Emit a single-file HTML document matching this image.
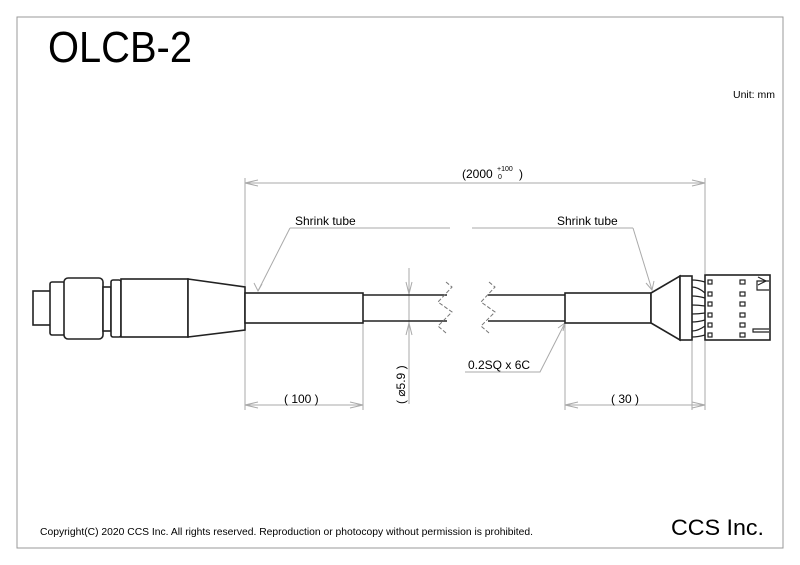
<!DOCTYPE html>
<html><head><meta charset="utf-8"><style>
html,body{margin:0;padding:0;background:#fff;}
svg{display:block;}
text{font-family:"Liberation Sans",sans-serif;fill:#000;}
</style></head><body>
<svg width="800" height="565" viewBox="0 0 800 565" xmlns="http://www.w3.org/2000/svg">
<rect x="17" y="17" width="766" height="531" fill="none" stroke="#999" stroke-width="1"/>
<text x="48" y="62" font-size="44" textLength="144" lengthAdjust="spacingAndGlyphs">OLCB-2</text>
<text x="733" y="98" font-size="10" textLength="42" lengthAdjust="spacingAndGlyphs">Unit: mm</text>
<text x="40" y="535" font-size="10" textLength="493" lengthAdjust="spacingAndGlyphs">Copyright(C) 2020 CCS Inc. All rights reserved. Reproduction or photocopy without permission is prohibited.</text>
<text x="671" y="535" font-size="22" textLength="93" lengthAdjust="spacingAndGlyphs">CCS Inc.</text>

<!-- dimension/extension lines -->
<g stroke="#aaa" stroke-width="1" fill="none">
<line x1="245" y1="178" x2="245" y2="410"/>
<line x1="705" y1="178" x2="705" y2="274"/>
<line x1="705" y1="341" x2="705" y2="410"/>
<line x1="245" y1="183" x2="705" y2="183"/>
<line x1="363" y1="323" x2="363" y2="410"/>
<line x1="565" y1="323" x2="565" y2="410"/>
<line x1="692" y1="341" x2="692" y2="410"/>
<line x1="245" y1="405" x2="363" y2="405"/>
<line x1="565" y1="405" x2="705" y2="405"/>
<line x1="409" y1="268" x2="409" y2="404"/>
<polyline points="258,180 245,183 258,186"/>
<polyline points="692,180 705,183 692,186"/>
<polyline points="258,402 245,405 258,408"/>
<polyline points="350,402 363,405 350,408"/>
<polyline points="578,402 565,405 578,408"/>
<polyline points="692,402 705,405 692,408"/>
<polyline points="406,282 409,294 412,282"/>
<polyline points="406,335 409,323 412,335"/>
<polyline points="290,228 450,228"/>
<polyline points="290,228 258,291"/>
<polyline points="472,228 633,228"/>
<polyline points="633,228 652,290"/>
<polyline points="465,372 540,372 565,323"/>
<polyline points="254,283 258,291 262,284"/>
<polyline points="646,283 652,290 654,281"/>
<polyline points="558,328 565,323 563,331"/>
</g>
<text x="462" y="178" font-size="12">(2000</text>
<text x="497" y="171" font-size="7">+100</text>
<text x="498" y="179" font-size="7">0</text>
<text x="519" y="178" font-size="12">)</text>
<text x="295" y="225" font-size="12">Shrink tube</text>
<text x="557" y="225" font-size="12">Shrink tube</text>
<text x="468" y="369" font-size="12">0.2SQ x 6C</text>
<text x="284" y="403" font-size="12">( 100 )</text>
<text x="611" y="403" font-size="12">( 30 )</text>
<text transform="translate(405,404) rotate(-90)" font-size="12">( ⌀5.9 )</text>

<!-- drawing -->
<g stroke="#222" stroke-width="1.6" fill="#fff">
<rect x="33" y="291" width="18" height="34"/>
<rect x="50" y="282" width="15" height="53" rx="2"/>
<rect x="64" y="278" width="39" height="61" rx="4"/>
<rect x="103" y="287" width="8" height="44"/>
<rect x="111" y="280" width="10" height="57" rx="2"/>
<rect x="121" y="279" width="67" height="58"/>
<polygon points="188,279 245,287 245,330 188,337"/>
<rect x="245" y="293" width="118" height="30"/>
<line x1="363" y1="295" x2="447" y2="295"/>
<line x1="363" y1="321" x2="447" y2="321"/>
<line x1="488" y1="295" x2="565" y2="295"/>
<line x1="488" y1="321" x2="565" y2="321"/>
<rect x="565" y="293" width="86" height="30"/>
<polygon points="651,293 680,276 680,340 651,323"/>
<rect x="680" y="276" width="12" height="64"/>
<rect x="705" y="275" width="65" height="65"/>
</g>
<g stroke="#222" stroke-width="1.2" fill="none">
<path d="M692,280 q6,0 13,2 M692,287 q6,0 13,6 M692,296 q6,0 13,2 M692,305 q6,0 13,1 M692,314 q6,0 13,-1 M692,322 q6,0 13,-2 M692,331 q6,0 13,-5 M692,337 q6,0 13,-2"/>
<polyline points="769,281 757,281 757,290 769,290"/>
<path d="M758,285 l8,-4 l-8,-4"/>
<polyline points="769,329 753,329 753,332 769,332"/>
</g>
<g stroke="#222" stroke-width="1.2" fill="none">
<rect x="708" y="280" width="4" height="4"/><rect x="740" y="280" width="5" height="4"/>
<rect x="708" y="292" width="4" height="4"/><rect x="740" y="292" width="5" height="4"/>
<rect x="708" y="302" width="4" height="4"/><rect x="740" y="302" width="5" height="4"/>
<rect x="708" y="313" width="4" height="4"/><rect x="740" y="313" width="5" height="4"/>
<rect x="708" y="323" width="4" height="4"/><rect x="740" y="323" width="5" height="4"/>
<rect x="708" y="333" width="4" height="4"/><rect x="740" y="333" width="5" height="4"/>
</g>
<g stroke="#777" stroke-width="1" fill="none" stroke-dasharray="4,2">
<polyline points="446,282 452,287 438,302 452,312 438,326 446,333"/>
<polyline points="489,282 495,287 481,302 495,312 481,326 489,333"/>
</g>
</svg>
</body></html>
